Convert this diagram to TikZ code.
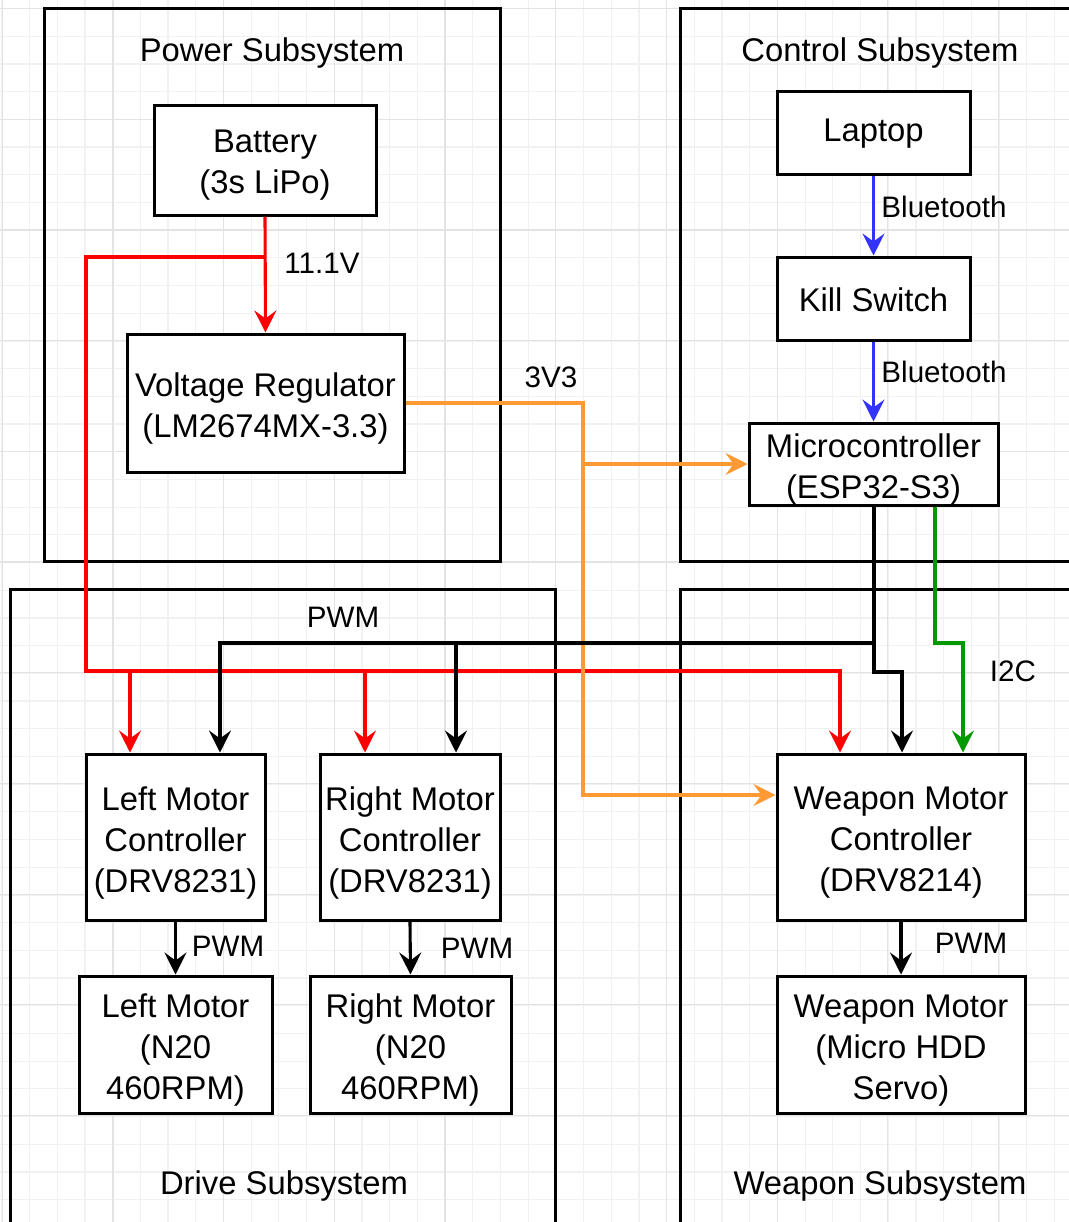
\documentclass[tikz,border=0pt]{standalone}
\usepackage{fontspec}
\setmainfont{Liberation Sans}
\usetikzlibrary{arrows.meta}
\definecolor{gridminor}{HTML}{F1F1F1}
\definecolor{gridmajor}{HTML}{E3E3E3}
\definecolor{pwrred}{HTML}{FF0000}
\definecolor{vorange}{HTML}{FF9933}
\definecolor{btblue}{HTML}{3333FF}
\definecolor{i2cgreen}{HTML}{009900}
\begin{document}
\begin{tikzpicture}[x=0.5pt,y=-0.5pt,
  >={Stealth[length=11pt,width=11pt,inset=4pt]},
  box/.style={draw=black, line width=1.5pt, fill=white, inner sep=0pt},
  textbase/.style={align=center, inner sep=1pt,
    font=\fontsize{16.4pt}{20.5pt}\selectfont},
  boxtext/.style={textbase, yshift=-2.8pt},
  onetext/.style={textbase, yshift=-0.6pt},
  subsys/.style={draw=black, line width=1.5pt},
  title/.style={inner sep=1pt, font=\fontsize{16.4pt}{20.5pt}\selectfont},
  lbl/.style={inner sep=1pt, font=\fontsize{14.8pt}{18pt}\selectfont},
  wire/.style={line width=1.55pt},
  redw/.style={wire, pwrred},
  orgw/.style={wire, vorange},
  bluw/.style={wire, btblue},
  grnw/.style={wire, i2cgreen},
  blkw/.style={wire, black}]
\useasboundingbox (0,0) rectangle (1069,1222);
\clip (0,0) rectangle (1069,1222);
\fill[white] (0,0) rectangle (1069,1222);
% grid
\foreach \i in {0,...,38} \draw[gridminor, line width=0.6pt] ({1.8+27.7*\i},0) -- ({1.8+27.7*\i},1222);
\foreach \i in {0,...,44} \draw[gridminor, line width=0.6pt] (0,{8.5+27.7*\i}) -- (1069,{8.5+27.7*\i});
\foreach \i in {0,...,9} \draw[gridmajor, line width=0.6pt] ({2.2+110.7*\i},0) -- ({2.2+110.7*\i},1222);
\foreach \i in {0,...,11} \draw[gridmajor, line width=0.6pt] (0,{8.5+110.7*\i}) -- (1069,{8.5+110.7*\i});

% subsystem frames
\draw[subsys] (44,8) rectangle (500,561);
\draw[subsys] (680,8) rectangle (1100,561);
\draw[subsys] (10,589) rectangle (555,1260);
\draw[subsys] (680,589) rectangle (1100,1260);
\node[title] (tpow) at (272,53) {Power Subsystem};
\node[title] (tctl) at (880,53) {Control Subsystem};
\node[title] (tdrv) at (284,1186) {Drive Subsystem};
\node[title] (twpn) at (880,1186) {Weapon Subsystem};

% blocks
\node[box, minimum width=111pt, minimum height=55pt,
  label={[boxtext]center:Battery\\(3s LiPo)}] (bat) at (265,160) {};
\node[box, minimum width=138.5pt, minimum height=69pt,
  label={[boxtext]center:Voltage Regulator\\(LM2674MX-3.3)}] (vr) at (265.5,403) {};
\node[box, minimum width=96.5pt, minimum height=41.5pt,
  label={[onetext]center:Laptop}] (lap) at (873.5,132.5) {};
\node[box, minimum width=96.5pt, minimum height=41.5pt,
  label={[onetext]center:Kill Switch}] (kill) at (873.5,298.5) {};
\node[box, minimum width=124.5pt, minimum height=41pt,
  label={[boxtext]center:Microcontroller\\(ESP32-S3)}] (mcu) at (873.5,464) {};
\node[box, minimum width=89.5pt, minimum height=83pt,
  label={[boxtext]center:Left Motor\\Controller\\(DRV8231)}] (lmc) at (175.5,837) {};
\node[box, minimum width=90pt, minimum height=83pt,
  label={[boxtext]center:Right Motor\\Controller\\(DRV8231)}] (rmc) at (410,837) {};
\node[box, minimum width=124pt, minimum height=83pt,
  label={[boxtext]center:Weapon Motor\\Controller\\(DRV8214)}] (wmc) at (901,837) {};
\node[box, minimum width=96.5pt, minimum height=68.5pt,
  label={[boxtext]center:Left Motor\\(N20\\460RPM)}] (lm) at (175.5,1044.5) {};
\node[box, minimum width=100.5pt, minimum height=68.5pt,
  label={[boxtext]center:Right Motor\\(N20\\460RPM)}] (rm) at (410.5,1044.5) {};
\node[box, minimum width=124pt, minimum height=68.5pt,
  label={[boxtext]center:Weapon Motor\\(Micro HDD\\Servo)}] (wm) at (901,1044.5) {};

% junction coordinates
\coordinate (rj) at (265,257);
\coordinate (rc1) at (86,257);
\coordinate (rc2) at (86,671);
\coordinate (rL) at (130,671);
\coordinate (rR) at (365,671);
\coordinate (rW) at (840,671);
\coordinate (bj) at (874,643);
\coordinate (bL) at (220,643);
\coordinate (bR) at (456,643);
\coordinate (bk1) at (874,672);
\coordinate (bk2) at (902,672);
\coordinate (g1) at (935,643);
\coordinate (g2) at (963,643);
\coordinate (o1) at (583,403);
\coordinate (o2) at (583,795);
\coordinate (oj) at (583,464);

% power (red)
\draw[redw,->] (bat.south) -- (vr.north);
\draw[redw,->] (rj) -- (rc1) -- (rc2) -- (rW) -- (rW |- wmc.north);
\draw[redw,->] (rL) -- (rL |- lmc.north);
\draw[redw,->] (rR) -- (rR |- rmc.north);

% 3V3 (orange)
\draw[orgw,->] (vr.east |- o1) -- (o1) -- (o2) -- (wmc.west |- o2);
\draw[orgw,->] (oj) -- (mcu.west);

% bluetooth (blue)
\draw[bluw,->] (lap.south) -- (kill.north);
\draw[bluw,->] (kill.south) -- (mcu.north);

% PWM (black)
\draw[blkw,->] (bj |- mcu.south) -- (bj) -- (bL) -- (bL |- lmc.north);
\draw[blkw,->] (bR) -- (bR |- rmc.north);
\draw[blkw,->] (bj) -- (bk1) -- (bk2) -- (bk2 |- wmc.north);
\draw[blkw,->] (lmc.south) -- (lm.north);
\draw[blkw,->] (rmc.south) -- (rm.north);
\draw[blkw,->] (wmc.south) -- (wm.north);

% I2C (green)
\draw[grnw,->] (g1 |- mcu.south) -- (g1) -- (g2) -- (g2 |- wmc.north);

% labels
\node[lbl] (l111) at (322,263) {11.1V};
\node[lbl] (l3v3) at (551,377) {3V3};
\node[lbl] (lbt1) at (944,207) {Bluetooth};
\node[lbl] (lbt2) at (944,372) {Bluetooth};
\node[lbl] (lpwm) at (343,617) {PWM};
\node[lbl] (li2c) at (1013,671) {I2C};
\node[lbl] (lp1) at (228,946) {PWM};
\node[lbl] (lp2) at (477,948) {PWM};
\node[lbl] (lp3) at (971,943) {PWM};
\end{tikzpicture}
\end{document}
